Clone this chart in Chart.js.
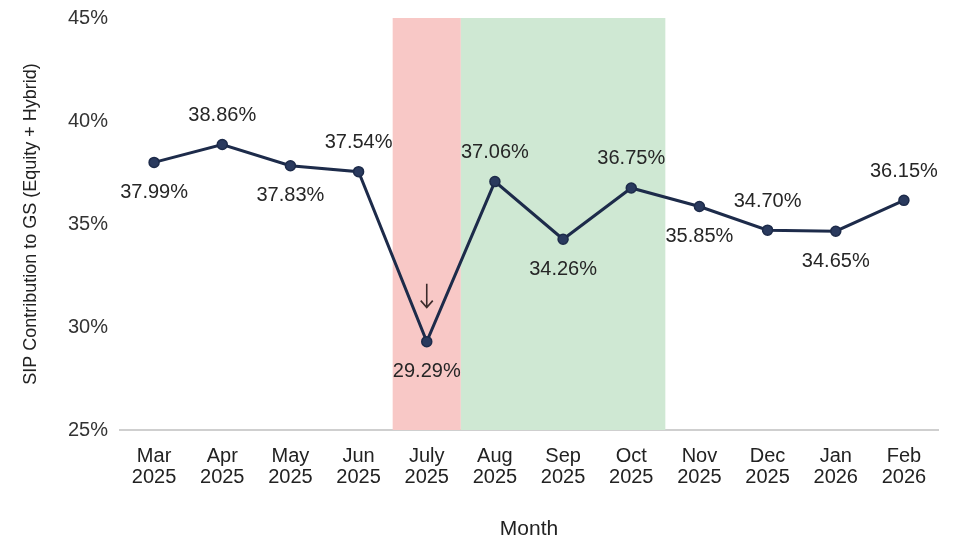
<!DOCTYPE html>
<html>
<head>
<meta charset="utf-8">
<title>SIP Contribution to GS</title>
<script src="https://cdn.jsdelivr.net/npm/chart.js@4.4.1/dist/chart.umd.min.js"></script>
<style>
  html, body { margin: 0; padding: 0; background: #fff; }
  #wrap { width: 959px; height: 545px; }
</style>
</head>
<body>
<div id="wrap"><canvas id="sipChart" width="959" height="545"></canvas></div>
<script>
// --- Data ---
const months = ['Mar', 'Apr', 'May', 'Jun', 'July', 'Aug', 'Sep', 'Oct', 'Nov', 'Dec', 'Jan', 'Feb'];
const years = ['2025', '2025', '2025', '2025', '2025', '2025', '2025', '2025', '2025', '2025', '2026', '2026'];
const sipShare = [37.99, 38.86, 37.83, 37.54, 29.29, 37.06, 34.26, 36.75, 35.85, 34.70, 34.65, 36.15];
const labelSide = ['below', 'above', 'below', 'above', 'below', 'above', 'below', 'above', 'below', 'above', 'below', 'above'];
const yTicks = [25, 30, 35, 40, 45];

// highlighted month ranges (category indexes)
const dipMonths = [4, 4];
const recoveryMonths = [5, 7];

const FONT = "'Liberation Sans', Arial, sans-serif";
const LINE_COLOR = '#1d2b4a';

// shaded month bands behind the line
const bandsPlugin = {
    id: 'bands',
    beforeDatasetsDraw(chart) {
        const { ctx, chartArea, scales: { x } } = chart;
        const half = (x.getPixelForValue(1) - x.getPixelForValue(0)) / 2;
        const fillBand = (range, color) => {
            const left = x.getPixelForValue(range[0]) - half;
            const right = x.getPixelForValue(range[1]) + half;
            ctx.save();
            ctx.fillStyle = color;
            ctx.fillRect(left, chartArea.top, right - left, chartArea.bottom - chartArea.top);
            ctx.restore();
        };
        fillBand(dipMonths, '#f8c8c6');
        fillBand(recoveryMonths, '#cfe8d3');
    }
};

// value labels + arrow over the July dip
const labelsPlugin = {
    id: 'valueLabels',
    afterDatasetsDraw(chart) {
        const { ctx } = chart;
        const meta = chart.getDatasetMeta(0);
        ctx.save();
        ctx.font = '20px ' + FONT;
        ctx.fillStyle = '#262626';
        ctx.textAlign = 'center';
        ctx.textBaseline = 'middle';
        meta.data.forEach((pt, i) => {
            const dy = labelSide[i] === 'above' ? -29 : 30;
            ctx.fillText(sipShare[i].toFixed(2) + '%', pt.x, pt.y + dy);
        });

        // down arrow above the lowest point
        const dip = meta.data[dipMonths[0]];
        const top = dip.y - 58, tip = dip.y - 34;
        ctx.strokeStyle = '#3b2b2b';
        ctx.lineWidth = 1.6;
        ctx.beginPath();
        ctx.moveTo(dip.x, top);
        ctx.lineTo(dip.x, tip);
        ctx.moveTo(dip.x - 6, tip - 7);
        ctx.lineTo(dip.x, tip);
        ctx.lineTo(dip.x + 6, tip - 7);
        ctx.stroke();
        ctx.restore();
    }
};

const ctx = document.getElementById('sipChart').getContext('2d');
new Chart(ctx, {
    type: 'line',
    data: {
        labels: months.map((m, i) => [m, years[i]]),
        datasets: [{
            data: sipShare,
            borderColor: LINE_COLOR,
            borderWidth: 3,
            backgroundColor: '#2a3a5e',
            pointBackgroundColor: '#2a3a5e',
            pointBorderColor: LINE_COLOR,
            pointBorderWidth: 1.5,
            pointRadius: 5,
            tension: 0,
            clip: false
        }]
    },
    options: {
        responsive: false,
        animation: false,
        layout: { padding: { top: 18, right: 21, bottom: 0, left: 0 } },
        plugins: {
            legend: { display: false },
            tooltip: { enabled: false }
        },
        scales: {
            x: {
                offset: true,
                grid: { display: false },
                border: { display: true, color: '#cfcfcf', width: 2 },
                ticks: {
                    color: '#222',
                    font: { family: FONT, size: 20, lineHeight: 1.05 },
                    padding: 8,
                    maxRotation: 0,
                    autoSkip: false
                },
                title: {
                    display: true,
                    text: 'Month',
                    color: '#222',
                    font: { family: FONT, size: 21 },
                    padding: { top: 0, bottom: 3 }
                },
                afterFit(scale) { scale.height = 115; }
            },
            y: {
                min: 25,
                max: 45,
                grid: { display: false },
                border: { display: false },
                afterBuildTicks(scale) { scale.ticks = yTicks.map(v => ({ value: v })); },
                ticks: {
                    color: '#333',
                    font: { family: FONT, size: 20 },
                    padding: 4,
                    callback: v => v + '%'
                },
                title: {
                    display: true,
                    text: 'SIP Contribution to GS (Equity + Hybrid)',
                    color: '#222',
                    font: { family: FONT, size: 18 },
                    padding: { top: 20, bottom: 0 }
                },
                afterFit(scale) { scale.width = 120; }
            }
        }
    },
    plugins: [bandsPlugin, labelsPlugin]
});
</script>
</body>
</html>
